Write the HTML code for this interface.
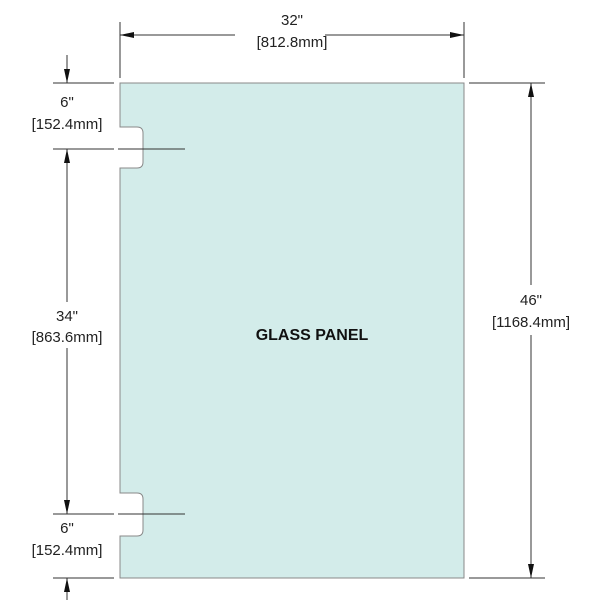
<!DOCTYPE html>
<html><head><style>
html,body{margin:0;padding:0;background:#fff;width:600px;height:600px;overflow:hidden}
svg text{font-family:"Liberation Sans",sans-serif;fill:#222}
</style></head><body>
<svg width="600" height="600" viewBox="0 0 600 600" xmlns="http://www.w3.org/2000/svg">
<defs>
<marker id="a" viewBox="0 0 14 6" refX="14" refY="3" markerWidth="14" markerHeight="6" orient="auto-start-reverse" markerUnits="userSpaceOnUse">
<path d="M0,0 L14,3 L0,6 z" fill="#111"/></marker>
</defs>
<path d="M120,83 H464 V578 H120 V536 H137 Q143,536 143,530 V499 Q143,493 137,493 H120 V168 H137 Q143,168 143,162 V133 Q143,127 137,127 H120 Z" fill="#d3ecea" stroke="#888" stroke-width="1"/>
<text x="312" y="340" font-size="16" font-weight="bold" text-anchor="middle" style="fill:#111">GLASS PANEL</text>
<g stroke="#333" stroke-width="1" fill="none">
<line x1="120" y1="22" x2="120" y2="78"/>
<line x1="464" y1="22" x2="464" y2="78"/>
<line x1="120" y1="35" x2="235" y2="35" marker-start="url(#a)"/>
<line x1="325" y1="35" x2="464" y2="35" marker-end="url(#a)"/>
<line x1="469" y1="83" x2="545" y2="83"/>
<line x1="469" y1="578" x2="545" y2="578"/>
<line x1="531" y1="83" x2="531" y2="285" marker-start="url(#a)"/>
<line x1="531" y1="335" x2="531" y2="578" marker-end="url(#a)"/>
<line x1="53" y1="83" x2="114" y2="83"/>
<line x1="53" y1="149" x2="114" y2="149"/>
<line x1="118" y1="149" x2="185" y2="149"/>
<line x1="53" y1="514" x2="114" y2="514"/>
<line x1="118" y1="514" x2="185" y2="514"/>
<line x1="53" y1="578" x2="114" y2="578"/>
<line x1="67" y1="55" x2="67" y2="83" marker-end="url(#a)"/>
<line x1="67" y1="149" x2="67" y2="302" marker-start="url(#a)"/>
<line x1="67" y1="348" x2="67" y2="514" marker-end="url(#a)"/>
<line x1="67" y1="600" x2="67" y2="578" marker-end="url(#a)"/>
</g>
<g font-size="15" text-anchor="middle">
<text x="292" y="25">32"</text>
<text x="292" y="47">[812.8mm]</text>
<text x="531" y="305">46"</text>
<text x="531" y="327">[1168.4mm]</text>
<text x="67" y="107">6"</text>
<text x="67" y="129">[152.4mm]</text>
<text x="67" y="321">34"</text>
<text x="67" y="342">[863.6mm]</text>
<text x="67" y="533">6"</text>
<text x="67" y="555">[152.4mm]</text>
</g>
</svg>
</body></html>
